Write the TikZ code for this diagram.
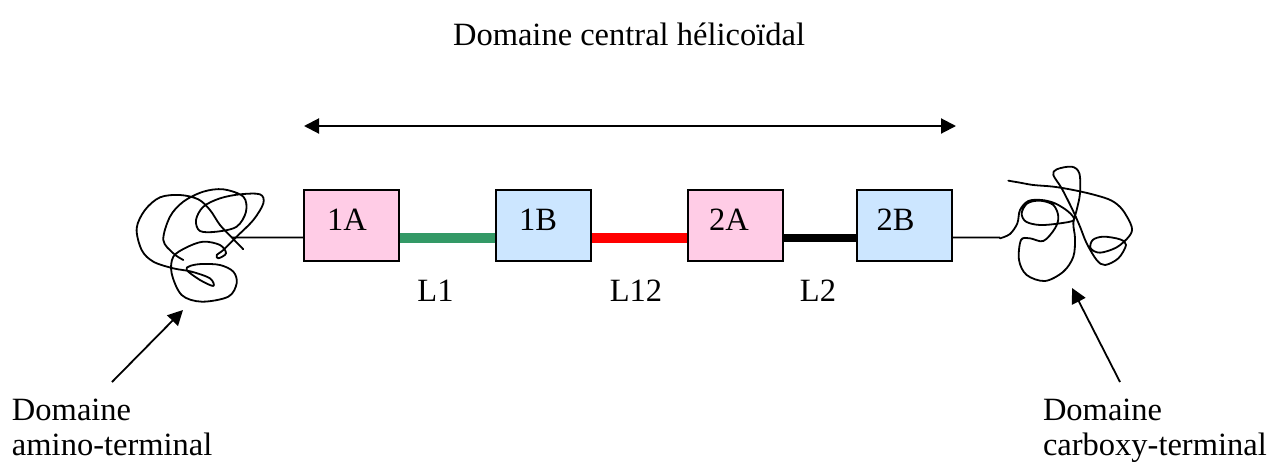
\documentclass[tikz,border=0pt]{standalone}
\usepackage{fontspec}
\setmainfont{Liberation Serif}
\usetikzlibrary{arrows.meta}
\definecolor{helixA}{RGB}{255,204,230}
\definecolor{helixB}{RGB}{204,230,255}
\definecolor{seagreen}{RGB}{51,153,102}

\begin{document}
\begin{tikzpicture}[x=1pt,y=-1pt,
  every node/.style={font=\fontsize{32.5}{35}\selectfont, inner sep=0pt, outer sep=0pt},
  segbox/.style={draw=black, line width=2pt, minimum width=95pt, minimum height=71pt},
  segA/.style={segbox, fill=helixA},
  segB/.style={segbox, fill=helixB},
  boxlabel/.style={anchor=base west},
  linker/.style={line width=10pt, shorten <=1pt, shorten >=1pt},
  tail/.style={line width=1.8pt},
  coil/.style={line width=1.8pt, line join=round, line cap=round},
  pointer/.style={line width=1.8pt, -{Triangle[length=15pt,width=15pt]}},
  span/.style={line width=2pt, {Triangle[length=15pt,width=15pt]}-{Triangle[length=15pt,width=15pt]}}
]
\useasboundingbox (0,0) rectangle (1273,464);

% central helical domain: title and its extent
\node[anchor=base] (title) at (629,45) {Domaine central hélicoïdal};
\coordinate (spanL) at (304,126);
\coordinate (spanR) at (956,126);
\draw[span] (spanL) -- (spanR);

% helical segments
\node[segA] (b1A) at (351.5,225.5) {};
\node[segB] (b1B) at (543.5,225.5) {};
\node[segA] (b2A) at (735.5,225.5) {};
\node[segB] (b2B) at (904,225.5) {};
\node[boxlabel] (t1A) at ([xshift=23pt,yshift=-40.5pt]b1A.north west) {1A};
\node[boxlabel] (t1B) at ([xshift=23pt,yshift=-40.5pt]b1B.north west) {1B};
\node[boxlabel] (t2A) at ([xshift=21pt,yshift=-40.5pt]b2A.north west) {2A};
\node[boxlabel] (t2B) at ([xshift=20pt,yshift=-40.5pt]b2B.north west) {2B};

% linkers
\draw[linker, seagreen] ([yshift=-12pt]b1A.east) -- ([yshift=-12pt]b1B.west);
\draw[linker, red] ([yshift=-12pt]b1B.east) -- ([yshift=-12pt]b2A.west);
\draw[linker, black, line width=8pt] ([yshift=-12pt]b2A.east) -- ([yshift=-12pt]b2B.west);
\node[anchor=base] (l1) at (435.5,301) {L1};
\node[anchor=base] (l12) at (636,301) {L12};
\node[anchor=base] (l2) at (818,301) {L2};

% amino-terminal coil
\begin{scope}[shift={(120,160)}, scale=1/3]
  \coordinate (nEnd) at (335,232.5);
  \draw[coil] plot[smooth, tension=0.55] coordinates {
    (370,268) (335,232) (300,195) (270,150) (235,118) (180,105) (120,112)
    (75,150) (50,205) (65,270) (100,305) (160,325) (215,335) (270,355)
    (280,378) (240,360) (200,330) (210,318) (245,312) (300,315) (340,335)
    (350,370) (325,410) (245,425) (185,405) (155,340) (160,290) (200,262)
    (250,245) (300,255) (318,280) (295,295) (290,285) (310,270) (350,230)
    (400,180) (430,130) (420,103) (360,103) (300,115) (250,140) (228,180)
    (240,213) (290,215) (350,200) (378,155) (370,110) (310,88) (250,95)
    (190,125) (150,170) (130,240) (160,280) (190,300)};
\end{scope}

% carboxy-terminal coil
\begin{scope}[shift={(940,160)}, scale=1/3]
  \coordinate (cEnd) at (180,232.5);
  \draw[coil] plot[smooth, tension=0.55] coordinates {
    (180,235) (210,222) (232,190) (240,150) (265,123) (305,120) (345,130)
    (385,155) (402,180) (360,190) (300,195) (258,185) (245,160) (262,130)
    (300,122) (340,135) (355,170) (345,205) (310,243) (270,235) (243,240)
    (237,300) (260,345) (315,363) (370,335) (400,290) (405,235) (400,190)
    (410,150) (420,100) (418,40) (395,20) (350,28) (340,45) (365,85)
    (398,150) (420,200) (440,250) (470,300) (495,315) (535,295) (558,255)
    (540,238) (490,230) (458,240) (452,265) (480,278) (530,262) (568,228)
    (575,200) (548,150) (515,122) (465,105) (400,90) (340,80) (280,75)
    (240,68) (205,62)};
\end{scope}

% tails joining the coils to the helical domain
\draw[tail] (nEnd) -- ([yshift=-12pt]b1A.west);
\draw[tail] ([yshift=-12pt]b2B.east) -- (cEnd);

% terminal domain labels and pointers
\node[anchor=base west] (nLab1) at (12,420) {Domaine};
\node[anchor=base west] (nLab2) at (12,455) {amino-terminal};
\coordinate (nFrom) at (112,382);
\coordinate (nTip) at (183,310);
\draw[pointer] (nFrom) -- (nTip);

\node[anchor=base west] (cLab1) at (1043,420) {Domaine};
\node[anchor=base west] (cLab2) at (1043,455) {carboxy-terminal};
\coordinate (cFrom) at (1120,382);
\coordinate (cTip) at (1072,288);
\draw[pointer] (cFrom) -- (cTip);
\end{tikzpicture}
\end{document}
